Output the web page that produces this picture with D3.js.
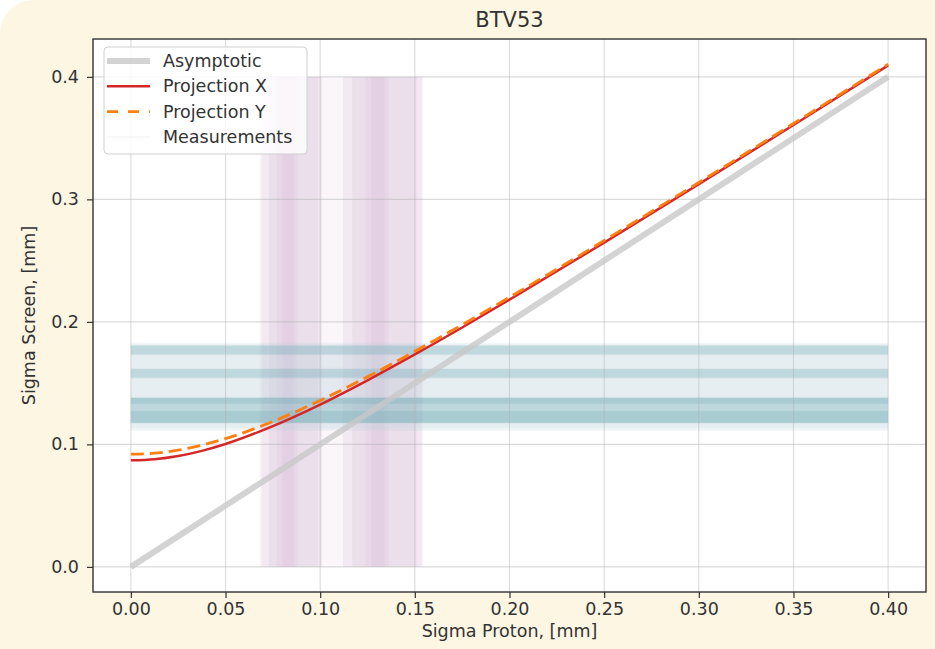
<!DOCTYPE html>
<html>
<head>
<meta charset="utf-8">
<script src="https://cdn.jsdelivr.net/npm/d3@7"></script>
<style>
  html, body { margin: 0; padding: 0; background: #fff; }
  svg { display: block; font-family: "DejaVu Sans", sans-serif; }
</style>
</head>
<body>
<div id="app"></div>
<script>
// values
const sigmaProton = [0, 0.0125, 0.025, 0.0375, 0.05, 0.075, 0.1, 0.125, 0.15, 0.175, 0.2, 0.25, 0.3, 0.35, 0.4];
const projX = [0.0870, 0.0879, 0.0905, 0.0947, 0.1003, 0.1149, 0.1325, 0.1523, 0.1734, 0.1954, 0.2181, 0.2647, 0.3124, 0.3607, 0.4094];
const projY = [0.0920, 0.0928, 0.0953, 0.0994, 0.1047, 0.1187, 0.1359, 0.1552, 0.1760, 0.1977, 0.2201, 0.2664, 0.3138, 0.3619, 0.4104];
const asymptotic = [[0, 0], [0.4, 0.4]];

// measurement bands: vertical (proton sigma) and horizontal (screen sigma), [lo, hi] in mm
const measXFaint = [[0.068, 0.154]];
const measX = [[0.069, 0.101], [0.073, 0.099], [0.077, 0.088], [0.080, 0.086],
               [0.112, 0.154], [0.117, 0.151], [0.124, 0.136], [0.127, 0.134]];
const measXExtent = [0, 0.4];
const measYLight = [[0.111, 0.183], [0.113, 0.181]];
const measYEdge = [[0.1725, 0.1815], [0.1535, 0.1625], [0.1166, 0.1390]];
const measY = [[0.1735, 0.1805], [0.1545, 0.1615], [0.1176, 0.1380], [0.1331, 0.1380], [0.1176, 0.1273]];
const measYExtent = [0, 0.4];

const xTicks = [0, 0.05, 0.1, 0.15, 0.2, 0.25, 0.3, 0.35, 0.4];
const yTicks = [0, 0.1, 0.2, 0.3, 0.4];
const legendItems = ["Asymptotic", "Projection X", "Projection Y", "Measurements"];

const width = 935;
const height = 649;
const margin = { top: 39, right: 9, bottom: 57, left: 93 };
const fs = 17.5;

const svg = d3.select("#app").append("svg").attr("width", width).attr("height", height);

// CREAM CARD BACKGROUND
svg.append("rect").attr("x", 0).attr("y", 0).attr("width", width + 60).attr("height", height + 60)
  .attr("rx", 34).attr("fill", "#fdf6e3");

const x = d3.scaleLinear().domain([-0.02, 0.42]).range([margin.left, width - margin.right]);
const y = d3.scaleLinear().domain([-0.0205, 0.4309]).range([height - margin.bottom, margin.top]);

// PLOT AREA
svg.append("rect")
  .attr("x", x.range()[0]).attr("y", y.range()[1])
  .attr("width", x.range()[1] - x.range()[0]).attr("height", y.range()[0] - y.range()[1])
  .attr("fill", "#fff");

const plot = svg.append("g");

// VERTICAL MEASUREMENT BANDS
const vBand = (data, color, op) => plot.append("g").selectAll("rect").data(data).join("rect")
  .attr("x", d => x(d[0])).attr("width", d => x(d[1]) - x(d[0]))
  .attr("y", y(measYExtent[1])).attr("height", y(measYExtent[0]) - y(measYExtent[1]))
  .attr("fill", color).attr("opacity", op);
vBand(measXFaint, "#dcc4dc", 0.15);
vBand(measX, "#d5b9d8", 0.22);

// HORIZONTAL MEASUREMENT BANDS
const hBand = (data, color, op) => plot.append("g").selectAll("rect").data(data).join("rect")
  .attr("y", d => y(d[1])).attr("height", d => y(d[0]) - y(d[1]))
  .attr("x", x(measXExtent[0])).attr("width", x(measXExtent[1]) - x(measXExtent[0]))
  .attr("fill", color).attr("opacity", op);
hBand(measYLight, "#bfd0de", 0.2);
hBand(measYEdge, "#8fbfc6", 0.12);
hBand(measY, "#6aaab2", 0.26);

// GRID
const grid = svg.append("g").attr("stroke", "#b0b0b0").attr("stroke-opacity", 0.45).attr("stroke-width", 1.1);
grid.selectAll(".gx").data(xTicks).join("line")
  .attr("x1", d => x(d)).attr("x2", d => x(d)).attr("y1", y.range()[0]).attr("y2", y.range()[1]);
grid.selectAll(".gy").data(yTicks).join("line")
  .attr("y1", d => y(d)).attr("y2", d => y(d)).attr("x1", x.range()[0]).attr("x2", x.range()[1]);

// LINES
const line = d3.line().x(d => x(d[0])).y(d => y(d[1]));
const curve = d3.line().x(d => x(d[0])).y(d => y(d[1])).curve(d3.curveMonotoneX);

svg.append("path").datum(asymptotic).attr("d", line)
  .attr("fill", "none").attr("stroke", "#c8c8c8").attr("stroke-opacity", 0.8).attr("stroke-width", 6);

svg.append("path").datum(sigmaProton.map((s, i) => [s, projX[i]])).attr("d", curve)
  .attr("fill", "none").attr("stroke", "#d62728").attr("stroke-width", 2.5);

svg.append("path").datum(sigmaProton.map((s, i) => [s, projY[i]])).attr("d", curve)
  .attr("fill", "none").attr("stroke", "#ff7f0e").attr("stroke-width", 2.8).attr("stroke-dasharray", "13,6");

// AXES
const xAxis = svg.append("g").attr("transform", `translate(0,${y.range()[0]})`)
  .call(d3.axisBottom(x).tickValues(xTicks).tickFormat(d3.format(".2f")).tickSize(6).tickPadding(5));
const yAxis = svg.append("g").attr("transform", `translate(${x.range()[0]},0)`)
  .call(d3.axisLeft(y).tickValues(yTicks).tickFormat(d3.format(".1f")).tickSize(6).tickPadding(8));
[xAxis, yAxis].forEach(a => {
  a.select(".domain").remove();
  a.selectAll("line").attr("stroke", "#333").attr("stroke-width", 1.2);
  a.selectAll("text").attr("font-size", fs).attr("fill", "#333").attr("font-family", "DejaVu Sans");
});

// SPINES
svg.append("rect")
  .attr("x", x.range()[0]).attr("y", y.range()[1])
  .attr("width", x.range()[1] - x.range()[0]).attr("height", y.range()[0] - y.range()[1])
  .attr("fill", "none").attr("stroke", "#333").attr("stroke-width", 1.4);

// TITLES
svg.append("text").attr("x", (x.range()[0] + x.range()[1]) / 2).attr("y", 27)
  .attr("text-anchor", "middle").attr("font-size", 21).attr("fill", "#333").text("BTV53");
svg.append("text").attr("x", (x.range()[0] + x.range()[1]) / 2).attr("y", 637)
  .attr("text-anchor", "middle").attr("font-size", fs).attr("fill", "#333").text("Sigma Proton, [mm]");
svg.append("text").attr("transform", `translate(35,${(y.range()[0] + y.range()[1]) / 2}) rotate(-90)`)
  .attr("text-anchor", "middle").attr("font-size", fs).attr("fill", "#333").text("Sigma Screen, [mm]");

// LEGEND
const legend = svg.append("g").attr("transform", "translate(104,47)");
legend.append("rect").attr("width", 203).attr("height", 107).attr("rx", 4)
  .attr("fill", "#fff").attr("fill-opacity", 0.8).attr("stroke", "#d0d0d0").attr("stroke-width", 1);
const handles = [
  { stroke: "#c8c8c8", opacity: 0.8, width: 6, dash: null },
  { stroke: "#d62728", opacity: 1, width: 2.5, dash: null },
  { stroke: "#ff7f0e", opacity: 1, width: 2.8, dash: "11,10" },
  { stroke: "#c8c8c8", opacity: 0.12, width: 2, dash: null },
];
const rows = legend.selectAll("g").data(legendItems).join("g")
  .attr("transform", (d, i) => `translate(0,${14 + i * 25.3})`);
rows.append("line").attr("x1", 3).attr("x2", 46).attr("y1", 0).attr("y2", 0)
  .attr("stroke", (d, i) => handles[i].stroke).attr("stroke-opacity", (d, i) => handles[i].opacity)
  .attr("stroke-width", (d, i) => handles[i].width).attr("stroke-dasharray", (d, i) => handles[i].dash);
rows.append("text").attr("x", 59).attr("y", 0).attr("dy", "0.35em")
  .attr("font-size", fs).attr("fill", "#333").text(d => d);
</script>
</body>
</html>
